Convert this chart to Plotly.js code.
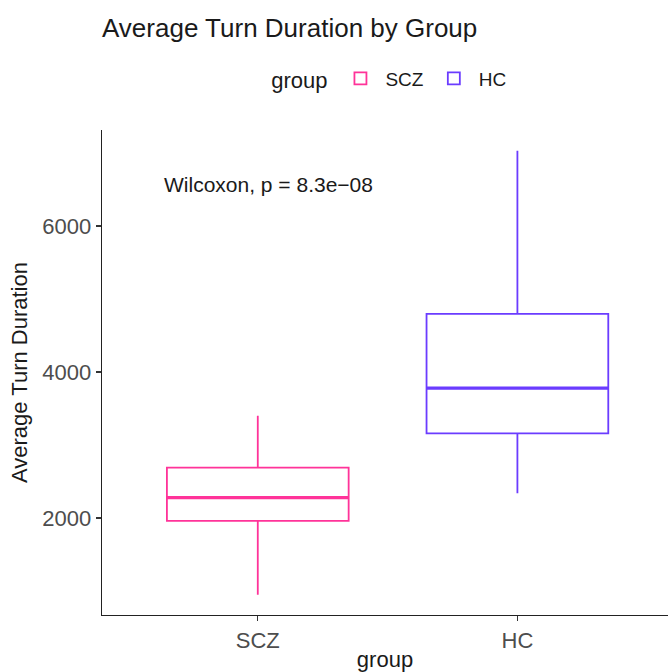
<!DOCTYPE html>
<html>
<head>
<meta charset="utf-8">
<script src="https://cdn.plot.ly/plotly-3.0.1.min.js"></script>
<style>html,body{margin:0;padding:0;background:#fff;}#chart{width:668px;height:672px;}</style>
</head>
<body>
<div id="chart"></div>
<script>
// Data
const groups = ["SCZ", "HC"];
const groupColors = ["#FF3399", "#6B3CFF"];
const lowerWhisker = [950, 2340];
const q1Values = [1960, 3160];
const medianValues = [2280, 3780];
const q3Values = [2690, 4795];
const upperWhisker = [3400, 7030];
const yTickValues = [2000, 4000, 6000];
const yTickLabels = ["2000", "4000", "6000"];
const annotationText = "Wilcoxon, p = 8.3e\u221208";

const FONT = "Liberation Sans, Arial, Helvetica, sans-serif";

const boxTraces = groups.map((g, i) => ({
  type: "box",
  name: g,
  x: [g],
  q1: [q1Values[i]],
  median: [medianValues[i]],
  q3: [q3Values[i]],
  lowerfence: [lowerWhisker[i]],
  upperfence: [upperWhisker[i]],
  width: 0.7,
  line: {color: groupColors[i], width: 1.8},
  fillcolor: "rgba(255,255,255,0)",
  whiskerwidth: 0,
  boxpoints: false,
  hoverinfo: "skip"
}));

// thicker median line (ggplot fatten), drawn as a degenerate box at the median
const medianTraces = groups.map((g, i) => ({
  type: "box",
  name: g + " median",
  x: [g],
  q1: [medianValues[i]],
  median: [medianValues[i]],
  q3: [medianValues[i]],
  lowerfence: [medianValues[i]],
  upperfence: [medianValues[i]],
  width: 0.7,
  line: {color: groupColors[i], width: 3.2},
  fillcolor: "rgba(255,255,255,0)",
  whiskerwidth: 0,
  boxpoints: false,
  showlegend: false,
  hoverinfo: "skip"
}));

const layout = {
  width: 668,
  height: 672,
  paper_bgcolor: "#fff",
  plot_bgcolor: "#fff",
  margin: {l: 102, r: 0, t: 130, b: 57},
  font: {family: FONT, color: "#000"},
  title: {
    text: "Average Turn Duration by Group",
    font: {family: FONT, size: 26, color: "#1a1a1a"},
    xref: "paper", x: 0, xanchor: "left",
    yref: "container", y: 0.958, yanchor: "middle"
  },
  showlegend: true,
  legend: {
    orientation: "h",
    xref: "paper", x: 0.51, xanchor: "center",
    yref: "paper", y: 1.105, yanchor: "middle",
    title: {text: "group", side: "left", font: {family: FONT, size: 22, color: "#1a1a1a"}},
    font: {family: FONT, size: 19, color: "#1a1a1a"},
    itemwidth: 40,
    traceorder: "normal"
  },
  xaxis: {
    type: "category",
    categoryorder: "array",
    categoryarray: groups,
    range: [-0.6, 1.58],
    showline: true, linecolor: "#222", linewidth: 1.4,
    ticks: "outside", ticklen: 5, tickcolor: "#333", tickwidth: 1.4,
    showgrid: false, zeroline: false,
    tickfont: {family: FONT, size: 22, color: "#4D4D4D"},
    title: {text: "group", font: {family: FONT, size: 22, color: "#1a1a1a"}, standoff: 4}
  },
  yaxis: {
    range: [671, 7315],
    tickvals: yTickValues,
    ticktext: yTickLabels,
    showline: true, linecolor: "#222", linewidth: 1.4,
    ticks: "outside", ticklen: 5, tickcolor: "#333", tickwidth: 1.4,
    showgrid: false, zeroline: false,
    tickfont: {family: FONT, size: 22, color: "#4D4D4D"},
    title: {text: "Average Turn Duration", font: {family: FONT, size: 22, color: "#1a1a1a"}, standoff: 8}
  },
  annotations: [{
    text: annotationText,
    xref: "x", yref: "y",
    x: -0.37, y: 6575,
    xanchor: "left", yanchor: "middle",
    showarrow: false,
    font: {family: FONT, size: 21, color: "#1a1a1a"}
  }]
};

Plotly.newPlot("chart", boxTraces.concat(medianTraces), layout, {displayModeBar: false, staticPlot: true});
</script>
</body>
</html>
